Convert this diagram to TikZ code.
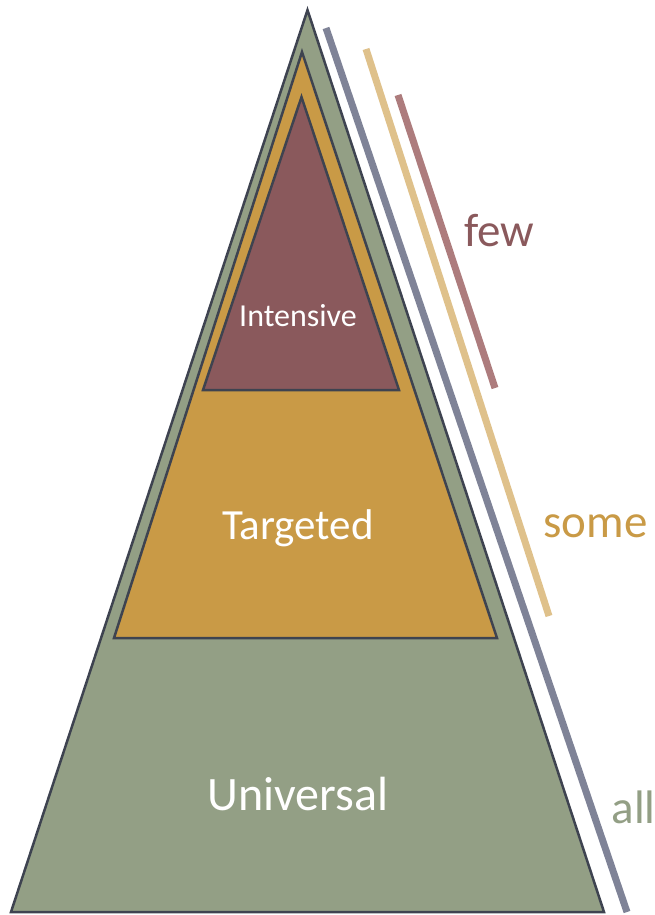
\documentclass[tikz,border=0pt]{standalone}
\usepackage{fontspec}
\setmainfont{Carlito}
\definecolor{sagegreen}{HTML}{939F85}
\definecolor{mustard}{HTML}{C99A46}
\definecolor{maroon}{HTML}{8A595C}
\definecolor{slategray}{HTML}{7F8397}
\definecolor{sand}{HTML}{DFC18B}
\definecolor{dustyrose}{HTML}{AD7C7D}
\definecolor{outline}{HTML}{3E4350}

\begin{document}
\begin{tikzpicture}[
            x=1pt, y=-1pt,
            tier/.style={draw=outline, line width=2.5pt},
            bar/.style={line width=7pt},
            tiertext/.style={anchor=base, text=white},
            reach/.style={anchor=base west, font=\fontsize{47}{50}\selectfont}
        ]
            \useasboundingbox (0,0) rectangle (654,915);

            % Pyramid tiers
            \draw[tier, fill=sagegreen] (307.5,10) -- (604,912) -- (11,912) -- cycle;
            \draw[tier, fill=mustard] (302,52) -- (497,638) -- (114,638) -- cycle;
            \draw[tier, fill=maroon] (301.5,97) -- (399,390) -- (203,390) -- cycle;

            \node[tiertext, font=\fontsize{32}{35}\selectfont] (intensive) at (298,326) {Intensive};
            \node[tiertext, font=\fontsize{43}{46}\selectfont] (targeted) at (298,539) {Targeted};
            \node[tiertext, font=\fontsize{48}{52}\selectfont] (universal) at (298,810) {Universal};

            % Reach bars
            \coordinate (alltop) at (326,28);
            \coordinate (allbot) at (627,912);
            \coordinate (sometop) at (366,49);
            \coordinate (somebot) at (549,616);
            \coordinate (fewtop) at (398,95);
            \coordinate (fewbot) at (495,388);
            \draw[bar, slategray] (alltop) -- (allbot);
            \draw[bar, sand] (sometop) -- (somebot);
            \draw[bar, dustyrose] (fewtop) -- (fewbot);

            \node[reach, text=maroon] (few) at (461,246) {few};
            \node[reach, text=mustard] (some) at (540,537) {some};
            \node[reach, text=sagegreen] (all) at (608,823) {all};
        \end{tikzpicture}
\end{document}
